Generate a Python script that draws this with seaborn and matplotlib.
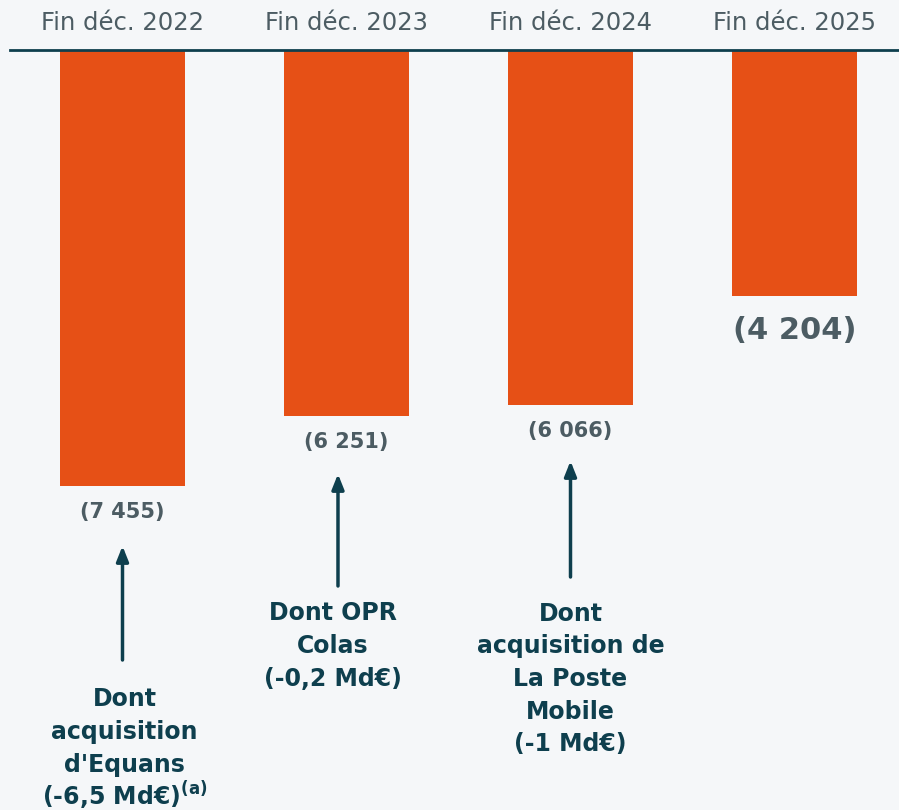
import matplotlib
matplotlib.use("Agg")
import matplotlib.pyplot as plt
import matplotlib.transforms as mtransforms
import seaborn as sns
import pandas as pd

categories = ["Fin déc. 2022", "Fin déc. 2023", "Fin déc. 2024", "Fin déc. 2025"]
values = [7455, 6251, 6066, 4204]
value_labels = ["(7 455)", "(6 251)", "(6 066)", "(4 204)"]
notes = [
    "Dont\nacquisition\nd'Equans\n(-6,5 Md€)$^{\\mathbf{(a)}}$",
    "Dont OPR\nColas\n(-0,2 Md€)",
    "Dont\nacquisition de\nLa Poste\nMobile\n(-1 Md€)",
]

BG = "#F5F7F9"
BAR = "#E65016"
DARK = "#0E3F4E"
GREY = "#4C5C63"

sns.set_theme(style="white")
plt.rcParams["font.family"] = ["DejaVu Sans"]
plt.rcParams["mathtext.fontset"] = "dejavusans"

fig = plt.figure(figsize=(8.99, 8.10), dpi=100, facecolor=BG)
W, H = 899, 810
ax = fig.add_axes([10 / W, 0, 1 - 10 / W, (H - 50) / H])
ax.set_facecolor(BG)

df = pd.DataFrame({"cat": categories, "val": values})
sns.barplot(data=df, x="cat", y="val", color=BAR, width=125 / 224, ax=ax,
            saturation=1, edgecolor="none")

scale = 436 / 7455  # px per unit
ax.set_xlim(-112.5 / 224, 3 + 104.5 / 224)
ax.set_ylim((H - 50) / scale, 0)

for s in ["left", "right", "bottom"]:
    ax.spines[s].set_visible(False)
ax.spines["top"].set_color(DARK)
ax.spines["top"].set_linewidth(2)
ax.xaxis.tick_top()
ax.tick_params(axis="x", length=0, pad=10.5, labelsize=17.5, labelcolor=GREY)
ax.set_yticks([])
ax.set_xlabel("")
ax.set_ylabel("")

# value labels
for i, (v, lab) in enumerate(zip(values, value_labels)):
    big = i == 3
    ax.annotate(lab, (i, v), xytext=(0, -(35 if big else 26) * 0.72),
                textcoords="offset points", ha="center", va="center",
                fontsize=22 if big else 15, fontweight="bold", color=GREY)

tr = mtransforms.blended_transform_factory(ax.transData, fig.transFigure)
def fy(py):
    return 1 - py / H

# arrows (x in data coords, y in pixels)
arrows = [(0.0, 660, 546), (0.962, 586, 474), (2.0, 577, 461)]
for x, y0, y1 in arrows:
    ax.annotate("", xy=(x, fy(y1)), xytext=(x, fy(y0)), xycoords=tr, textcoords=tr,
                arrowprops=dict(arrowstyle="-|>,head_length=0.75,head_width=0.3",
                                color=DARK, lw=2.5, shrinkA=0, shrinkB=0),
                annotation_clip=False)

style = dict(transform=tr, ha="center", fontsize=17, fontweight="bold",
             color=DARK, linespacing=1.45)

# note 1: first lines as a block, last line (with superscript) on its own
lines1 = notes[0].split("\n")
ax.text(0.01, fy(732), "\n".join(lines1[:-1]), va="center", **style)
ax.text(0.01, fy(805), lines1[-1], va="baseline", **style)

note_pos = [(0.94, 646), (2.0, 679)]
for (x, py), txt in zip(note_pos, notes[1:]):
    ax.text(x, fy(py), txt, va="center", **style)

fig.savefig("out.png", dpi=100, facecolor=BG)
